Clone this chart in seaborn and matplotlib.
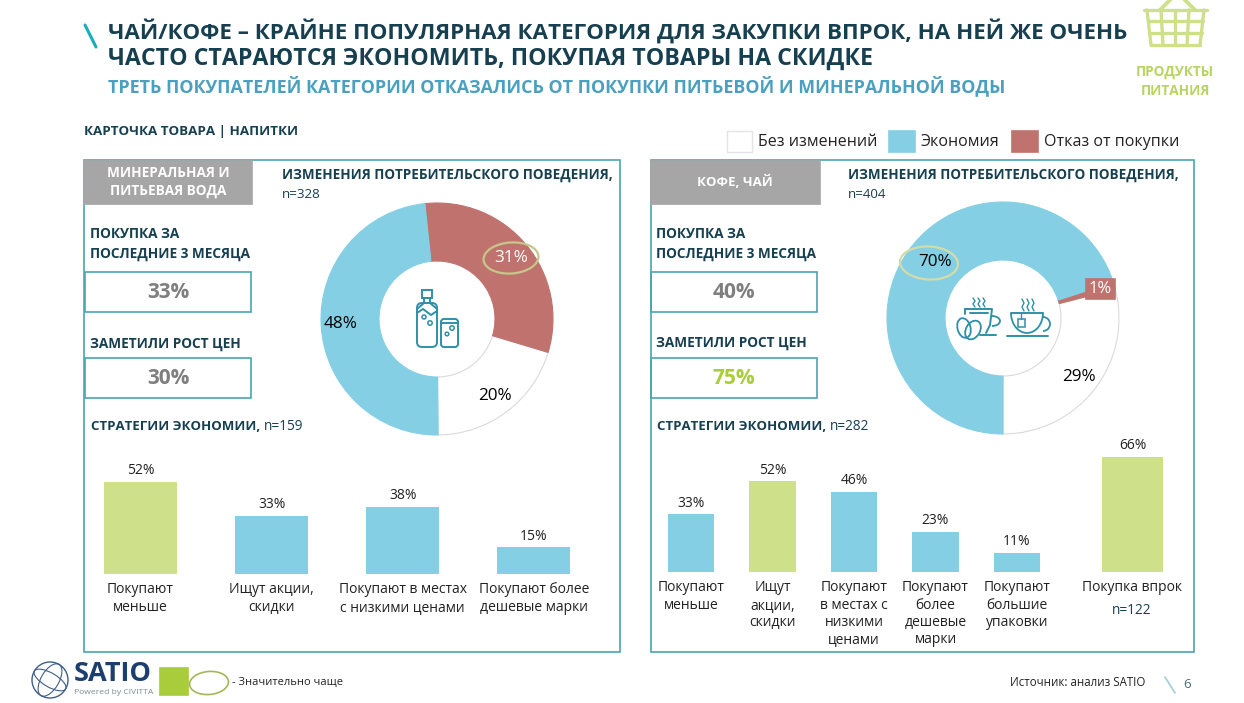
import numpy as np
import seaborn as sns
import matplotlib
matplotlib.use('Agg')
import matplotlib.pyplot as plt
from matplotlib.patches import Rectangle, Ellipse, Circle, FancyBboxPatch, Arc

W, H = 1244, 703

BLUE = '#85CFE4'
RED = '#C0736E'
GREEN = '#CFE08A'
DARK = '#163F50'
TEAL = '#4AA5B0'
ICON = '#2F8FA8'

# Data
donut_left_vals = [31, 20, 48]
donut_left_labels = ['31%', '20%', '48%']
donut_right_vals = [1, 29, 70]
donut_right_labels = ['1%', '29%', '70%']

bar_left_cats = ['Покупают\nменьше', 'Ищут акции,\nскидки', 'Покупают в местах\nс низкими ценами', 'Покупают более\nдешевые марки']
bar_left_vals = [52, 33, 38, 15]
bar_left_colors = [GREEN, BLUE, BLUE, BLUE]

bar_right_cats = ['Покупают\nменьше', 'Ищут\nакции,\nскидки', 'Покупают\nв местах с\nнизкими\nценами', 'Покупают\nболее\nдешевые\nмарки', 'Покупают\nбольшие\nупаковки']
bar_right_vals = [33, 52, 46, 23, 11]
bar_right_colors = [BLUE, GREEN, BLUE, BLUE, BLUE]

stock_cat = ['Покупка впрок']
stock_val = [66]

sns.set_theme(style='white')
plt.rcParams['font.family'] = ['Open Sans', 'DejaVu Sans']

fig = plt.figure(figsize=(W / 100, H / 100), dpi=100)
fig.patch.set_facecolor('white')


def px_axes(x0, y0, x1, y1, **kw):
    return fig.add_axes([x0 / W, 1 - y1 / H, (x1 - x0) / W, (y1 - y0) / H], **kw)


def draw_donut(cx, cy, vals, labels, colors, start):
    half = 116 * 1.02
    ax = px_axes(cx - half, cy - half, cx + half, cy + half)
    wedges, texts = ax.pie(vals, colors=colors, labels=labels, startangle=start, counterclock=False,
                           labeldistance=0.83, wedgeprops={'width': 0.5, 'linewidth': 0.8})
    for w, c in zip(wedges, colors):
        w.set_edgecolor('#DADADA' if c == 'white' else c)
        if c != 'white':
            w.set_zorder(3)
    for tx in texts:
        tx.set_ha('center')
        tx.set_va('center')
        tx.set_fontsize(12.3)
        tx.set_color('black')
        tx.set_zorder(4)
    ax.set_xlim(-1.02, 1.02)
    ax.set_ylim(-1.02, 1.02)
    return texts


def draw_bars(x0, x1, base, scale, cats, vals, colors, width):
    top = base - 134
    ax = px_axes(x0, top, x1, base)
    sns.barplot(x=cats, y=vals, hue=cats, palette=colors, legend=False, width=width, saturation=1, linewidth=0, ax=ax)
    ax.set_ylim(0, 134 / scale)
    ax.set_yticks([])
    ax.patch.set_alpha(0)
    sns.despine(ax=ax, left=True, bottom=True)
    ax.tick_params(axis='x', length=0, pad=6, labelsize=10, labelcolor='#222222')
    for lab in ax.get_xticklabels():
        lab.set_linespacing(1.2)
    for cont in ax.containers:
        ax.bar_label(cont, fmt='%d%%', padding=2.5, fontsize=10, color='#222222')
    return ax


# Donuts
left_texts = draw_donut(437, 319, donut_left_vals, donut_left_labels, [RED, 'white', BLUE], 96)
left_texts[0].set_color('white')
right_texts = draw_donut(1003, 318, donut_right_vals, donut_right_labels, [RED, 'white', BLUE], 18)
right_texts[2].set_position((-0.585, 0.485))
right_texts[0].set_visible(False)

# Bars
draw_bars(75, 599.5, 574, 1.77, bar_left_cats, bar_left_vals, bar_left_colors, 0.557)
draw_bars(650.25, 1057.75, 572, 1.75, bar_right_cats, bar_right_vals, bar_right_colors, 0.565)
draw_bars(1071.5, 1193.5, 572, 1.75, stock_cat, stock_val, [GREEN], 0.5)

# Everything else lives on a pixel-coordinate overlay
ov = px_axes(0, 0, W, H, zorder=10)
ov.set_xlim(0, W)
ov.set_ylim(H, 0)
ov.axis('off')
ov.patch.set_alpha(0)


def txt(x, y, s, size=9.5, color=DARK, weight='normal', ha='left', va='center', **kw):
    ov.text(x, y, s, fontsize=size, color=color, fontweight=weight, ha=ha, va=va, **kw)


def box(x0, y0, x1, y1, fc='none', ec=TEAL, lw=1.2, **kw):
    ov.add_patch(Rectangle((x0, y0), x1 - x0, y1 - y0, facecolor=fc, edgecolor=ec, linewidth=lw, **kw))


def stroke(xs, ys, color=ICON, lw=1.4):
    ov.plot(xs, ys, color=color, linewidth=lw, solid_capstyle='round')


# Header
stroke([85, 96], [25, 47], color='#19AEBB', lw=2.2)
txt(108, 31, 'ЧАЙ/КОФЕ – КРАЙНЕ ПОПУЛЯРНАЯ КАТЕГОРИЯ ДЛЯ ЗАКУПКИ ВПРОК, НА НЕЙ ЖЕ ОЧЕНЬ', 16.15, weight='bold')
txt(108, 59, 'ЧАСТО СТАРАЮТСЯ ЭКОНОМИТЬ, ПОКУПАЯ ТОВАРЫ НА СКИДКЕ', 16.7, weight='bold')
txt(108, 86, 'ТРЕТЬ ПОКУПАТЕЛЕЙ КАТЕГОРИИ ОТКАЗАЛИСЬ ОТ ПОКУПКИ ПИТЬЕВОЙ И МИНЕРАЛЬНОЙ ВОДЫ', 12.83, color='#4BA0C0', weight='bold')
txt(84, 131, 'КАРТОЧКА ТОВАРА | НАПИТКИ', 9.6, weight='bold')

# Basket icon
for xa, xb in zip([1147, 1161, 1175, 1189, 1204], [1151, 1163, 1175, 1187, 1200]):
    stroke([xa, xb], [10, 45], GREEN, 2.4)
for y, (a, b) in zip([10, 21, 33, 45], [(1144, 1207), (1148, 1203), (1149, 1202), (1151, 1200)]):
    stroke([a, b], [y, y], GREEN, 2.4)
stroke([1160, 1172], [10, -2], GREEN, 2.8)
stroke([1195, 1183], [10, -2], GREEN, 2.8)
txt(1175, 72, 'ПРОДУКТЫ', 9.8, color='#B7D45F', weight='bold', ha='center')
txt(1175, 91, 'ПИТАНИЯ', 9.8, color='#B7D45F', weight='bold', ha='center')

# Legend
box(727, 131, 752, 152, fc='white', ec='#E4E4E4', lw=1)
txt(758, 142, 'Без изменений', 11.5, color='#222222')
box(889, 131, 915, 152, fc=BLUE, ec=BLUE)
txt(921, 142, 'Экономия', 11.5, color='#222222')
box(1012, 131, 1038, 152, fc=RED, ec=RED)
txt(1044, 142, 'Отказ от покупки', 11.5, color='#222222')

# Panels
box(84, 160, 620, 652)
box(651, 160, 1194, 652)
box(84, 161, 252, 204, fc='#A6A6A6', ec='#A6A6A6')
box(651, 161, 820, 204, fc='#A6A6A6', ec='#A6A6A6')
txt(168, 182, 'МИНЕРАЛЬНАЯ И\nПИТЬЕВАЯ ВОДА', 9.8, color='white', weight='bold', ha='center', linespacing=1.25)
txt(735, 182, 'КОФЕ, ЧАЙ', 9.5, color='white', weight='bold', ha='center')

for x, n, y in [(282, 'n=328', 195), (848, 'n=404', 194)]:
    txt(x, 175, 'ИЗМЕНЕНИЯ ПОТРЕБИТЕЛЬСКОГО ПОВЕДЕНИЯ,', 9.75, weight='bold')
    txt(x, y, n, 9.6)

# KPI blocks
for x, y1, y2, y3, y4, v1, v2, c2 in [(90, 234, 292, 344, 378, '33%', '30%', '#7F7F7F'),
                                      (656, 234, 292, 343, 378, '40%', '75%', '#A9CC3A')]:
    txt(x, y1, 'ПОКУПКА ЗА', 9.8, weight='bold')
    txt(x, y1 + 20, 'ПОСЛЕДНИЕ 3 МЕСЯЦА', 9.8, weight='bold')
    txt(x, y3, 'ЗАМЕТИЛИ РОСТ ЦЕН', 9.8, weight='bold')
    box(x - 5, y2 - 20, x + 161, y2 + 20)
    box(x - 5, y4 - 20, x + 161, y4 + 20)
    txt(x + 78, y2, v1, 15, color='#7F7F7F', weight='bold', ha='center')
    txt(x + 78, y4, v2, 15, color=c2, weight='bold', ha='center')

txt(91, 427, 'СТРАТЕГИИ ЭКОНОМИИ,', 9.5, weight='bold')
txt(264, 427, 'n=159', 9.8)
txt(657, 426, 'СТРАТЕГИИ ЭКОНОМИИ,', 9.5, weight='bold')
txt(830, 426, 'n=282', 9.8)
txt(1132, 611, 'n=122', 9.8, color=DARK, ha='center')

# Highlight rings and the 1% tag
ov.add_patch(Ellipse((511, 258), 55, 31, angle=-4, fill=False, edgecolor='#C5C78A', linewidth=1.6))
ov.add_patch(Ellipse((929, 263), 58, 33, angle=3, fill=False, edgecolor='#D3DCA8', linewidth=1.6))
box(1086, 279, 1115, 299, fc=RED, ec=RED)
txt(1100.5, 289, '1%', 12, color='white', ha='center')

# Bottle and glass icon
ov.add_patch(FancyBboxPatch((417, 303), 20, 44, boxstyle='round,pad=0,rounding_size=5', fill=False, edgecolor=ICON, linewidth=1.4))
box(422, 290, 432, 298, ec=ICON, lw=1.4)
stroke([424, 424, 417], [298, 303, 309])
stroke([430, 430, 437], [298, 303, 309])
stroke([417, 423, 431, 437], [313, 309, 315, 311])
ov.add_patch(FancyBboxPatch((441, 319), 17, 28, boxstyle='round,pad=0,rounding_size=3', fill=False, edgecolor=ICON, linewidth=1.4))
stroke([441, 458], [323, 323])
for x, y, r in [(424, 317, 2), (430, 323, 2.2), (452, 328, 2.2), (447, 334, 1.8)]:
    ov.add_patch(Circle((x, y), r, fill=False, edgecolor=ICON, linewidth=1.1))

# Coffee cup with beans
stroke([965, 965, 969], [314, 309, 309])
stroke([965, 992, 990, 986], [309, 309, 325, 333])
stroke([970, 988], [313, 313])
ov.add_patch(Arc((992, 321), 16, 10, theta1=-90, theta2=90, edgecolor=ICON, linewidth=1.3))
stroke([980, 996], [335, 335])
ov.add_patch(Ellipse((964, 328), 13, 20, angle=-15, fill=False, edgecolor=ICON, linewidth=1.3))
ov.add_patch(Ellipse((973, 330), 14, 20, angle=30, fill=False, edgecolor=ICON, linewidth=1.3))
for x in [973, 978, 983]:
    stroke([x, x + 2, x, x + 2], [298, 301, 304, 307], lw=1)

# Tea cup
ov.add_patch(Arc((1027, 313), 32, 40, theta1=0, theta2=180, edgecolor=ICON, linewidth=1.3))
stroke([1011, 1043], [313, 313])
ov.add_patch(Arc((1043, 324), 14, 14, theta1=-90, theta2=90, edgecolor=ICON, linewidth=1.3))
stroke([1007, 1048], [336, 336])
box(1018, 319, 1025, 327, ec=ICON, lw=1.1)
stroke([1021, 1021], [313, 319], lw=1)
for x in [1022, 1027, 1032]:
    stroke([x, x + 2, x, x + 2], [299, 303, 307, 311], lw=1)

# Footer
ov.add_patch(Circle((50, 680), 18, fill=False, edgecolor='#3F5F85', linewidth=1))
ov.add_patch(Ellipse((50, 680), 18, 36, fill=False, edgecolor='#3F5F85', linewidth=0.8, angle=30))
ov.add_patch(Ellipse((50, 680), 36, 14, fill=False, edgecolor='#3F5F85', linewidth=0.8, angle=30))
txt(74, 674, 'SATIO', 19.5, color='#1C3F6E', weight='bold')
txt(74, 693, 'Powered by CIVITTA', 6.1, color='#7F8C99')
box(160, 668, 188, 695, fc='#A9CC3A', ec='#A9CC3A')
ov.add_patch(Ellipse((209, 683), 39, 23, angle=-5, fill=False, edgecolor='#A8B45A', linewidth=1.2))
txt(232, 682, '- Значительно чаще', 8, color='#222222')
txt(1010, 682, 'Источник: анализ SATIO', 8.3, color='#222222')
stroke([1165, 1175], [677, 693], color='#A9CFD8', lw=1.3)
txt(1187, 685, '6', 9.6, color='#4A6C78', ha='center')

fig.savefig('out.png', dpi=100)
